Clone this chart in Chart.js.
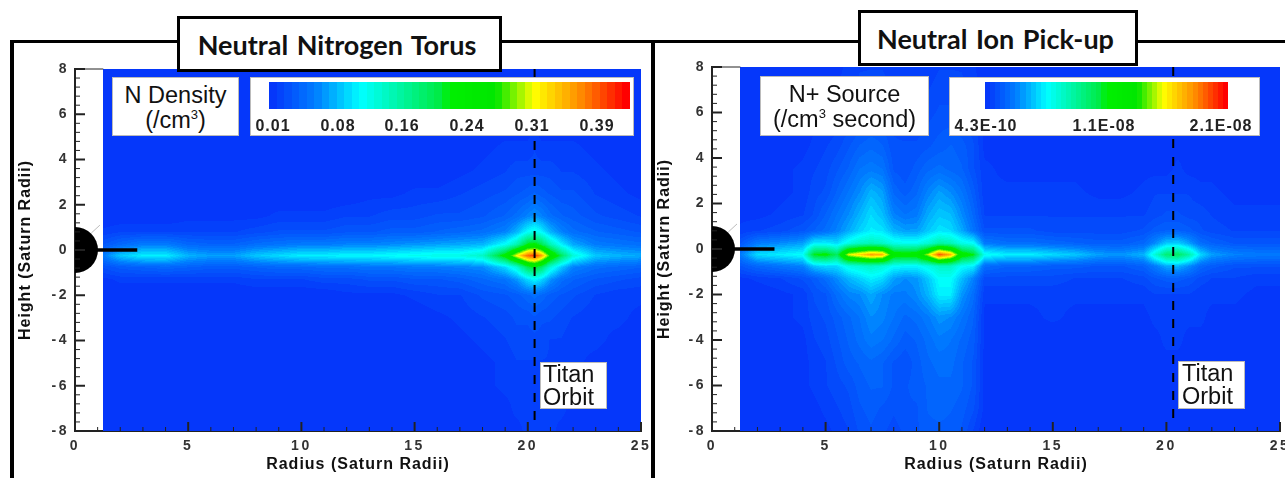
<!DOCTYPE html>
<html>
<head>
<meta charset="utf-8">
<script src="https://cdn.jsdelivr.net/npm/chart.js@4"></script>
<style>
html, body { margin: 0; padding: 0; background: #fff; }
#page { position: relative; width: 1285px; height: 478px; overflow: hidden; font-family: "Liberation Sans", sans-serif; color: #111; filter: blur(0.5px); }
canvas { position: absolute; top: 0; }
.frame { position: absolute; background: #000; }
.title { position: absolute; box-sizing: border-box; background: #fff; border: 3px solid #000; padding-right: 5px; display: flex; align-items: center; justify-content: center; font-family: Lato, sans-serif; font-weight: 700; font-size: 27px; word-spacing: 2px; white-space: nowrap; }
.box { position: absolute; box-sizing: border-box; background: #fff; border: 1px solid #bbb; text-align: center; font-size: 23.5px; line-height: 25px; white-space: nowrap; }
.box sup { font-size: 13px; line-height: 0; }
.bar { position: absolute; height: 27px; }
.cbl { position: absolute; top: 117px; font-weight: 700; font-size: 16px; letter-spacing: 1px; color: #222; transform: translateX(-50%); white-space: nowrap; }
</style>
</head>
<body>
<div id="page">
  <canvas id="leftChart"></canvas>
  <canvas id="rightChart"></canvas>
  <div class="frame" style="left:10px;top:40px;width:1275px;height:3px"></div>
  <div class="frame" style="left:10px;top:40px;width:4px;height:438px"></div>
  <div class="frame" style="left:651px;top:40px;width:4px;height:438px"></div>
  <div class="title" style="left:177px;top:16px;width:325px;height:56px">Neutral Nitrogen Torus</div>
  <div class="title" style="left:858px;top:10px;width:280px;height:56px">Neutral Ion Pick-up</div>
  <div class="box" style="left:112px;top:77px;width:127px;height:59px;padding-top:5px">N Density<br>(/cm<sup>3</sup>)</div>
  <div class="box" style="left:250px;top:77px;width:384px;height:59px"></div>
  <div class="bar" id="leftBar" style="left:269px;top:82px;width:361px"></div>
  <div class="box" style="left:760px;top:76px;width:169px;height:60px;padding-top:5px">N+ Source<br>(/cm<sup>3</sup> second)</div>
  <div class="box" style="left:949px;top:77px;width:311px;height:59px"></div>
  <div class="bar" id="rightBar" style="left:985px;top:82px;width:243px"></div>
  <div class="box" style="left:540px;top:362px;width:67px;height:47px;line-height:23px;text-align:left;padding-left:2px">Titan<br>Orbit</div>
  <div class="box" style="left:1178px;top:361px;width:67px;height:48px;line-height:23px;text-align:left;padding-left:3px">Titan<br>Orbit</div>
</div>
<script>
// tick values
const xTicks = [0, 5, 10, 15, 20, 25];
const yTicks = [-8, -6, -4, -2, 0, 2, 4, 6, 8];

// colour bar labels, with where they sit on the page
const densityLabels = ['0.01', '0.08', '0.16', '0.24', '0.31', '0.39'];
const densityLabelX = [273, 338, 402, 467, 532, 597];
const sourceLabels = ['4.3E-10', '1.1E-08', '2.1E-08'];
const sourceLabelX = [986, 1104, 1221];

// rows of both fields, top to bottom
const heights = [8, 6, 4.5, 3.5, 2.5, 1.5, 0.8, 0.25, -0.25, -0.75, -1.3, -2, -3, -4, -5, -6, -7, -8];

const densityRadii = [1.25, 2, 3, 4, 5, 6, 7, 8, 9, 10, 11, 12, 13, 14, 15, 16, 17, 18, 19, 19.5, 20, 20.3, 20.6, 21, 21.5, 22, 23, 24, 25];

const densityRows = [
  [0, 0, 0, 0, 0, 0, 0, 0, 0, 0, 0, 0, 0, 0, 0, 0, 0, 0, 0, 0, 0, 0, 0, 0, 0, 0, 0, 0, 0],
  [0, 0, 0, 0, 0, 0, 0, 0, 0, 0, 0, 0, 0, 0, 0, 0, 0, 0, 0, 0, 0, 0, 0, 0, 0, 0, 0, 0, 0],
  [0, 0, 0, 0, 0, 0, 0, 0, 0, 0, 0, 0, 0, 0, 0, 0, 0, 1, 2, 2, 2, 3, 2, 2, 2, 2, 1, 0, 0],
  [0, 0, 0, 0, 0, 0, 0, 0, 0, 0, 0, 0, 0, 0, 0, 0, 1, 2, 3, 4, 4, 4, 4, 4, 3, 3, 2, 1, 0],
  [0, 0, 0, 0, 0, 0, 0, 0, 0, 0, 0, 0, 1, 1, 2, 2, 3, 4, 5, 6, 7, 8, 7, 6, 5, 5, 3, 2, 1],
  [0, 0, 0, 0, 1, 1, 1, 1, 2, 2, 2, 3, 3, 4, 4, 5, 5, 6, 8, 10, 13, 15, 13, 10, 8, 7, 5, 4, 3],
  [2, 3, 3, 3, 3, 3, 3, 4, 5, 5, 5, 6, 6, 7, 7, 8, 9, 10, 13, 18, 26, 28, 25, 18, 13, 10, 8, 7, 6],
  [6, 9, 12, 12, 9, 8, 8, 10, 11, 12, 12, 13, 13, 14, 15, 16, 17, 18, 26, 34, 50, 52, 46, 34, 24, 17, 12, 11, 10],
  [12, 20, 24, 24, 18, 16, 16, 20, 22, 24, 24, 25, 25, 26, 27, 28, 28, 32, 54, 74, 90, 94, 84, 62, 44, 30, 20, 18, 17],
  [5, 7, 8, 9, 8, 7, 7, 8, 9, 9, 10, 10, 11, 11, 12, 12, 13, 14, 22, 30, 46, 50, 44, 30, 20, 13, 10, 9, 8],
  [1, 2, 2, 2, 2, 2, 2, 3, 3, 3, 4, 4, 5, 5, 6, 6, 7, 9, 11, 15, 22, 25, 22, 15, 10, 8, 6, 5, 4],
  [0, 0, 0, 0, 0, 0, 0, 0, 0, 0, 0, 1, 1, 1, 2, 3, 3, 5, 6, 7, 9, 10, 9, 7, 6, 5, 3, 2, 2],
  [0, 0, 0, 0, 0, 0, 0, 0, 0, 0, 0, 0, 0, 0, 0, 1, 2, 3, 4, 5, 5, 6, 5, 5, 4, 3, 2, 2, 1],
  [0, 0, 0, 0, 0, 0, 0, 0, 0, 0, 0, 0, 0, 0, 0, 0, 1, 2, 3, 4, 4, 4, 4, 3, 3, 2, 2, 1, 0],
  [0, 0, 0, 0, 0, 0, 0, 0, 0, 0, 0, 0, 0, 0, 0, 0, 0, 1, 2, 3, 3, 3, 3, 3, 2, 2, 1, 0, 0],
  [0, 0, 0, 0, 0, 0, 0, 0, 0, 0, 0, 0, 0, 0, 0, 0, 0, 1, 2, 2, 3, 3, 3, 2, 2, 1, 1, 0, 0],
  [0, 0, 0, 0, 0, 0, 0, 0, 0, 0, 0, 0, 0, 0, 0, 0, 0, 0, 1, 2, 2, 3, 2, 2, 2, 1, 1, 0, 0],
  [0, 0, 0, 0, 0, 0, 0, 0, 0, 0, 0, 0, 0, 0, 0, 0, 0, 0, 1, 1, 2, 2, 2, 2, 1, 1, 1, 0, 0]
];

const sourceRadii = [1.25, 2, 3, 4, 4.5, 5, 5.5, 6, 6.5, 7, 7.5, 8, 8.5, 9, 9.5, 10, 10.5, 11, 11.5, 12, 13, 14, 15, 16, 17, 18, 19, 19.5, 20, 20.5, 21, 21.5, 22, 23, 24, 25];

// N+ source
const sourceRows = [
  [0, 0, 0, 0, 0, 0, 1, 2, 3, 3, 3, 2, 2, 2, 2, 3, 3, 3, 2, 0, 0, 0, 0, 0, 0, 0, 0, 0, 0, 0, 0, 0, 0, 0, 0, 0],
  [0, 0, 0, 0, 1, 1, 2, 3, 4, 5, 5, 4, 3, 3, 4, 5, 5, 4, 3, 1, 1, 0, 0, 0, 0, 0, 0, 0, 0, 0, 0, 0, 0, 0, 0, 0],
  [0, 0, 0, 1, 2, 3, 4, 6, 8, 9, 8, 5, 5, 5, 6, 7, 8, 7, 5, 1, 1, 1, 1, 0, 0, 0, 0, 1, 1, 1, 1, 0, 0, 0, 0, 0],
  [0, 0, 1, 2, 3, 4, 6, 8, 11, 12, 11, 6, 5, 7, 9, 10, 9, 8, 5, 2, 1, 1, 1, 1, 0, 0, 1, 1, 1, 2, 1, 1, 1, 0, 0, 0],
  [0, 0, 1, 2, 4, 5, 8, 11, 14, 18, 16, 9, 7, 9, 13, 16, 14, 11, 7, 2, 2, 2, 2, 2, 1, 1, 2, 3, 3, 3, 3, 2, 2, 1, 1, 1],
  [1, 1, 2, 3, 5, 8, 11, 14, 18, 22, 19, 13, 11, 12, 17, 20, 19, 14, 9, 3, 3, 3, 3, 3, 3, 3, 3, 4, 5, 5, 4, 4, 3, 2, 2, 2],
  [2, 3, 4, 6, 8, 10, 13, 17, 21, 24, 23, 18, 16, 16, 20, 23, 22, 17, 11, 5, 5, 5, 4, 4, 4, 4, 5, 7, 8, 8, 7, 5, 4, 3, 3, 3],
  [6, 12, 14, 16, 24, 24, 22, 28, 32, 34, 32, 28, 27, 27, 30, 36, 34, 28, 26, 12, 10, 10, 9, 8, 7, 7, 9, 14, 20, 21, 16, 10, 8, 6, 6, 6],
  [12, 22, 24, 26, 50, 52, 44, 72, 78, 84, 82, 56, 55, 56, 70, 92, 82, 56, 50, 27, 24, 24, 22, 20, 16, 15, 18, 30, 42, 44, 36, 22, 16, 13, 12, 12],
  [6, 9, 11, 13, 20, 22, 22, 28, 30, 32, 30, 26, 25, 25, 28, 32, 32, 26, 24, 10, 8, 8, 7, 7, 6, 6, 8, 12, 17, 18, 14, 9, 7, 5, 5, 5],
  [1, 2, 3, 5, 7, 10, 14, 18, 21, 24, 22, 16, 14, 15, 20, 26, 26, 19, 13, 4, 4, 4, 4, 3, 3, 3, 4, 6, 7, 7, 6, 4, 3, 3, 2, 2],
  [0, 0, 1, 2, 5, 6, 10, 13, 14, 17, 14, 12, 12, 14, 18, 24, 24, 15, 10, 2, 2, 2, 2, 2, 2, 2, 2, 3, 3, 3, 3, 2, 2, 2, 1, 1],
  [0, 0, 1, 2, 4, 5, 7, 9, 11, 14, 13, 11, 9, 10, 12, 15, 14, 11, 8, 1, 1, 1, 2, 1, 1, 1, 1, 2, 2, 2, 2, 2, 1, 1, 0, 0],
  [0, 0, 0, 1, 3, 4, 6, 8, 10, 12, 11, 9, 7, 8, 10, 12, 11, 9, 7, 1, 1, 1, 0, 1, 1, 1, 1, 1, 2, 2, 1, 1, 1, 0, 0, 0],
  [0, 0, 0, 1, 2, 3, 5, 7, 8, 9, 8, 6, 5, 7, 9, 10, 10, 8, 6, 1, 1, 1, 1, 1, 1, 1, 1, 1, 1, 1, 1, 1, 0, 0, 0, 0],
  [0, 0, 0, 1, 2, 3, 4, 5, 7, 8, 8, 6, 6, 7, 8, 9, 9, 8, 6, 1, 1, 1, 1, 0, 0, 0, 0, 1, 1, 1, 1, 0, 0, 0, 0, 0],
  [0, 0, 0, 0, 1, 2, 3, 4, 6, 7, 6, 5, 6, 6, 8, 9, 8, 7, 5, 1, 1, 0, 0, 0, 0, 0, 0, 0, 1, 1, 0, 0, 0, 0, 0, 0],
  [0, 0, 0, 0, 1, 1, 2, 3, 5, 6, 5, 4, 5, 6, 7, 7, 7, 6, 3, 0, 0, 0, 0, 0, 0, 0, 0, 0, 0, 0, 0, 0, 0, 0, 0, 0]
];

// marks on top of the field
const titanOrbit = [{x: 20.3, y: 8}, {x: 20.3, y: -7.6}];
const saturn = [{x: 0, y: 0}];
const ringLine = [{x: 0, y: 0}, {x: 2.75, y: 0}];
const faintRing = [{x: 0.72, y: 0.75}, {x: 1.1, y: 1.1}];

// tecplot style rainbow: position on the bar, r, g, b
const barStops = [
  [0, 5, 55, 250], [0.12, 0, 125, 255], [0.25, 0, 255, 255], [0.47, 0, 235, 70], [0.5, 0, 240, 0],
  [0.63, 0, 230, 0], [0.74, 255, 255, 0], [0.87, 255, 140, 0], [1, 255, 0, 0]
];
const barBands = 48;
const fieldBands = 64;

function bandColor(t, bands) {
  t = Math.min(0.9999, Math.max(0, t));
  t = Math.floor(t * bands) / (bands - 1);
  let i = 0;
  while (i < barStops.length - 2 && t > barStops[i + 1][0]) i++;
  const a = barStops[i], b = barStops[i + 1];
  const f = (t - a[0]) / (b[0] - a[0]);
  return [1, 2, 3].map(k => Math.round(a[k] + (b[k] - a[k]) * f));
}

function findCell(list, v, descending) {
  let i = 0;
  while (i < list.length - 2 && (descending ? v < list[i + 1] : v > list[i + 1])) i++;
  return i;
}

// paints the field behind the datasets, always through the chart's own scales
function fieldPlugin(radii, rows) {
  let image = null;
  return {
    id: 'field',
    beforeDatasetsDraw(chart) {
      const {ctx, chartArea: area, scales: {x, y}} = chart;
      const startX = Math.round(x.getPixelForValue(radii[0]));
      const w = Math.round(area.right) - startX;
      const topY = Math.round(area.top);
      const h = Math.round(area.bottom) - topY;
      if (!image) {
        image = document.createElement('canvas');
        image.width = w;
        image.height = h;
        const c = image.getContext('2d');
        const out = c.createImageData(w, h);
        for (let py = 0; py < h; py++) {
          const hv = y.getValueForPixel(topY + py + 0.5);
          const j = findCell(heights, hv, true);
          const fy = (heights[j] - hv) / (heights[j] - heights[j + 1]);
          for (let px = 0; px < w; px++) {
            const rv = x.getValueForPixel(startX + px + 0.5);
            const i = findCell(radii, rv, false);
            const fx = (rv - radii[i]) / (radii[i + 1] - radii[i]);
            const v = rows[j][i] * (1 - fx) * (1 - fy) + rows[j][i + 1] * fx * (1 - fy)
              + rows[j + 1][i] * (1 - fx) * fy + rows[j + 1][i + 1] * fx * fy;
            const col = bandColor(v / 100, fieldBands);
            const p = (py * w + px) * 4;
            out.data[p] = col[0];
            out.data[p + 1] = col[1];
            out.data[p + 2] = col[2];
            out.data[p + 3] = 255;
          }
        }
        c.putImageData(out, 0, 0);
      }
      ctx.drawImage(image, startX, topY, w, h);
    },
    // tick labels get drawn after the datasets (ticks.z), wider apart than the titles
    afterDatasetsDraw(chart) { chart.ctx.letterSpacing = '2.5px'; }
  };
}

// inward tick marks
const tickPlugin = {
  id: 'inwardTicks',
  afterDatasetsDraw(chart) {
    const {ctx, chartArea: area, scales: {x, y}} = chart;
    ctx.save();
    ctx.strokeStyle = '#222';
    for (let v = 0; v <= 25; v++) {
      const major = xTicks.includes(v);
      const px = x.getPixelForValue(v);
      ctx.lineWidth = major ? 2 : 1;
      ctx.beginPath();
      ctx.moveTo(px, area.bottom);
      ctx.lineTo(px, area.bottom - (major ? 9 : 4));
      ctx.stroke();
    }
    for (let n = -40; n <= 40; n += 2) {
      const v = n / 5;
      const major = yTicks.includes(v);
      const py = y.getPixelForValue(v);
      ctx.lineWidth = major ? 2 : 1;
      ctx.beginPath();
      ctx.moveTo(area.left, py);
      ctx.lineTo(area.left + (major ? 10 : 5), py);
      ctx.stroke();
    }
    ctx.lineWidth = 1;
    ctx.beginPath();
    ctx.moveTo(area.left, area.top);
    ctx.lineTo(x.getPixelForValue(1.25), area.top);
    ctx.stroke();
    ctx.restore();
  }
};

const spacedText = {
  id: 'spacedText',
  beforeDraw(chart) { chart.ctx.letterSpacing = '1px'; }
};

function createChart(id, left, width, area, radii, rows, titleX) {
  const canvas = document.getElementById(id);
  canvas.style.left = left + 'px';
  const axisFont = {family: '"Liberation Sans"', size: 14, weight: 'bold'};
  const titleFont = {family: '"Liberation Sans"', size: 16, weight: 'bold'};
  const nodes = [];
  heights.forEach((h, j) => radii.forEach((r, i) => nodes.push({x: r, y: h, v: rows[j][i]})));

  return new Chart(canvas, {
    type: 'scatter',
    data: {
      datasets: [
        {label: 'field', data: nodes, pointRadius: 0},
        {label: 'Saturn', data: saturn, pointRadius: 23, pointHoverRadius: 23, backgroundColor: '#000', borderWidth: 0},
        {label: 'rings', data: ringLine, showLine: true, pointRadius: 0, borderColor: '#000', borderWidth: 3.5},
        {label: 'faint ring', data: faintRing, showLine: true, pointRadius: 0, borderColor: '#bbb', borderWidth: 1},
        {label: 'Titan Orbit', data: titanOrbit, showLine: true, pointRadius: 0, borderColor: '#000', borderWidth: 2, borderDash: [9, 9]}
      ]
    },
    plugins: [fieldPlugin(radii, rows), tickPlugin, spacedText],
    options: {
      responsive: false,
      animation: false,
      events: [],
      layout: {
        autoPadding: false,
        padding: {left: 0, top: area.top, right: width - (area.right - left), bottom: 0}
      },
      plugins: {legend: {display: false}, tooltip: {enabled: false}},
      scales: {
        x: {
          type: 'linear',
          min: 0,
          max: 25,
          afterBuildTicks: s => { s.ticks = xTicks.map(v => ({value: v})); },
          afterFit: s => { s.height = 478 - area.bottom; s.paddingLeft = 0; s.paddingRight = 0; },
          grid: {display: false, drawTicks: false},
          border: {color: '#222', width: 2},
          ticks: {font: axisFont, color: '#333', padding: 7, maxRotation: 0, autoSkip: false, z: 1},
          title: {display: true, text: 'Radius (Saturn Radii)', font: titleFont, color: '#111', padding: {top: 0, bottom: 4}}
        },
        y: {
          type: 'linear',
          min: -8,
          max: 8,
          afterBuildTicks: s => { s.ticks = yTicks.map(v => ({value: v})); },
          afterFit: s => { s.width = area.left - left; s.paddingTop = 0; s.paddingBottom = 0; },
          grid: {display: false, drawTicks: false},
          border: {color: '#222', width: 2},
          ticks: {font: axisFont, color: '#333', padding: 6, autoSkip: false, z: 1},
          title: {display: true, text: 'Height (Saturn Radii)', font: titleFont, color: '#111', padding: {top: titleX, bottom: 0}}
        }
      }
    }
  });
}

function fillColorBar(id, labels, labelX) {
  const bar = document.getElementById(id);
  const parts = [];
  for (let i = 0; i < barBands; i++) {
    const c = bandColor((i + 0.5) / barBands, barBands).join(',');
    parts.push(`rgb(${c}) ${(i / barBands * 100).toFixed(2)}%`, `rgb(${c}) ${((i + 1) / barBands * 100).toFixed(2)}%`);
  }
  bar.style.background = `linear-gradient(to right, ${parts.join(',')})`;
  const page = document.getElementById('page');
  labels.forEach((text, i) => {
    const el = document.createElement('div');
    el.className = 'cbl';
    el.style.left = labelX[i] + 'px';
    el.textContent = text;
    page.appendChild(el);
  });
}

document.getElementById('leftChart').width = 652;
document.getElementById('leftChart').height = 478;
document.getElementById('rightChart').width = 633;
document.getElementById('rightChart').height = 478;

createChart('leftChart', 0, 652, {left: 75, right: 641, top: 69, bottom: 431}, densityRadii, densityRows, 16);
createChart('rightChart', 652, 633, {left: 712, right: 1280, top: 67, bottom: 431}, sourceRadii, sourceRows, 3);
fillColorBar('leftBar', densityLabels, densityLabelX);
fillColorBar('rightBar', sourceLabels, sourceLabelX);
</script>
</body>
</html>
